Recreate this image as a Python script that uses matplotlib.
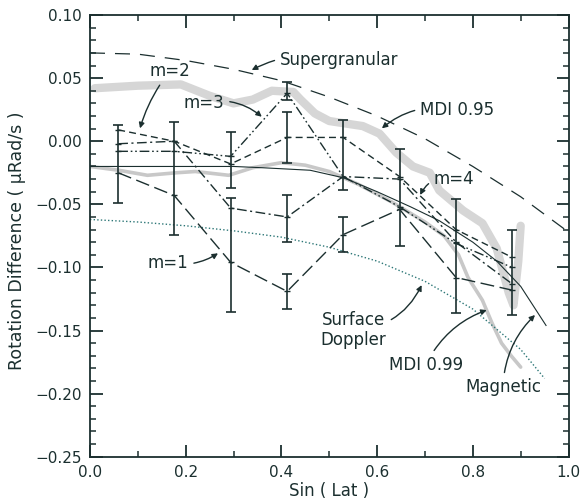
import matplotlib
matplotlib.use("Agg")
import matplotlib.pyplot as plt
from matplotlib.ticker import MultipleLocator, FuncFormatter

plt.rcParams['font.family'] = ['DejaVu Sans']

ink = '#1b2f2f'

# data
lat = [0.059, 0.176, 0.294, 0.412, 0.529, 0.647, 0.765, 0.882]
m1 = [-0.025, -0.043, -0.096, -0.119, -0.074, -0.054, -0.108, -0.118]
m2 = [0.009, 0.000, -0.018, 0.003, 0.003, -0.028, -0.070, -0.092]
m3 = [-0.008, -0.008, -0.012, 0.038, -0.028, -0.052, -0.081, -0.100]
m4 = [-0.002, 0.000, -0.053, -0.060, -0.028, -0.030, -0.080, -0.113]

# error bars (x, low, high)
bar_x = [0.059, 0.176, 0.294, 0.294, 0.412, 0.412, 0.412, 0.412, 0.529, 0.529, 0.647, 0.765, 0.882]
bar_lo = [-0.049, -0.074, -0.037, -0.135, 0.033, -0.017, -0.080, -0.133, -0.039, -0.088, -0.083, -0.136, -0.138]
bar_hi = [0.013, 0.015, 0.007, -0.045, 0.047, 0.023, -0.043, -0.105, 0.017, -0.060, -0.006, -0.046, -0.070]

super_x = [0.0, 0.1, 0.2, 0.3, 0.4, 0.5, 0.6, 0.7, 0.8, 0.9, 1.0]
super_y = [0.070, 0.069, 0.064, 0.057, 0.048, 0.035, 0.020, 0.002, -0.020, -0.044, -0.072]

doppler_x = [0.0, 0.1, 0.2, 0.3, 0.4, 0.5, 0.6, 0.7, 0.8, 0.9, 0.95]
doppler_y = [-0.062, -0.064, -0.067, -0.071, -0.076, -0.084, -0.095, -0.111, -0.133, -0.165, -0.188]

magnetic_x = [0.0, 0.1, 0.2, 0.3, 0.36, 0.46, 0.53, 0.60, 0.67, 0.73, 0.80, 0.85, 0.90, 0.953]
magnetic_y = [-0.020, -0.020, -0.020, -0.020, -0.021, -0.023, -0.029, -0.040, -0.052, -0.063, -0.080, -0.095, -0.115, -0.146]

mdi95_x = [0.01, 0.10, 0.19, 0.25, 0.30, 0.34, 0.38, 0.425, 0.44, 0.47, 0.50, 0.57, 0.605, 0.64, 0.675, 0.71,
           0.73, 0.78, 0.82, 0.85, 0.875, 0.885, 0.895, 0.90]
mdi95_y = [0.042, 0.044, 0.045, 0.036, 0.030, 0.033, 0.040, 0.039, 0.033, 0.022, 0.016, 0.012, 0.006, -0.009,
           -0.020, -0.025, -0.039, -0.055, -0.065, -0.085, -0.120, -0.130, -0.095, -0.067]

mdi99_x = [0.0, 0.06, 0.12, 0.18, 0.22, 0.29, 0.34, 0.40, 0.45, 0.50, 0.56, 0.63, 0.70, 0.74, 0.77, 0.79,
           0.82, 0.84, 0.86, 0.88, 0.90]
mdi99_y = [-0.020, -0.023, -0.027, -0.025, -0.024, -0.027, -0.021, -0.017, -0.019, -0.024, -0.034, -0.048,
           -0.064, -0.075, -0.090, -0.108, -0.126, -0.144, -0.160, -0.170, -0.179]

fig = plt.figure(figsize=(5.84, 5.01), dpi=100)
ax = fig.add_axes([0.1541, 0.0884, 0.8194, 0.8816])

# gray MDI bands first so the black lines sit on top
ax.plot(mdi95_x, mdi95_y, color='#d6d6d6', lw=6, solid_capstyle='round', zorder=1)
ax.plot(mdi99_x, mdi99_y, color='#c8c8c8', lw=2.6, solid_capstyle='round', zorder=1)

ax.plot(super_x, super_y, color=ink, lw=0.9, dashes=(12, 8), zorder=2)
ax.plot(doppler_x, doppler_y, color='#2d7777', lw=1.0, dashes=(1, 1.6), zorder=2)
ax.plot(magnetic_x, magnetic_y, color=ink, lw=0.8, zorder=2)

ax.plot(lat, m1, color=ink, lw=1.0, dashes=(10, 4), zorder=3)
ax.plot(lat, m2, color=ink, lw=1.0, dashes=(5, 3), zorder=3)
ax.plot(lat, m3, color=ink, lw=1.0, dashes=(7, 2, 1.2, 2, 1.2, 2), zorder=3)
ax.plot(lat, m4, color=ink, lw=1.0, dashes=(7, 2.5, 1.5, 2.5), zorder=3)
for s in (m1, m2, m3, m4):
    ax.plot(lat, s, ls='none', marker='_', ms=5, mew=1.0, color=ink, zorder=3)

for x, lo, hi in zip(bar_x, bar_lo, bar_hi):
    ax.errorbar([x], [(lo + hi) / 2], yerr=[[(hi - lo) / 2], [(hi - lo) / 2]], fmt='none',
                ecolor=ink, elinewidth=1.2, capsize=3.6, capthick=1.2, zorder=4)

ax.set_xlim(0.0, 1.0)
ax.set_ylim(-0.25, 0.10)
ax.xaxis.set_major_locator(MultipleLocator(0.2))
ax.xaxis.set_minor_locator(MultipleLocator(0.1))
ax.yaxis.set_major_locator(MultipleLocator(0.05))
ax.yaxis.set_minor_locator(MultipleLocator(0.01))
ax.xaxis.set_major_formatter(FuncFormatter(lambda v, p: '%.1f' % v))
ax.yaxis.set_major_formatter(FuncFormatter(lambda v, p: ('%.2f' % v).replace('-', '\u2212')))
ax.tick_params(which='both', direction='in', top=True, right=True, colors=ink, labelsize=11)
ax.tick_params(which='major', length=9, width=1.3, pad=6)
ax.tick_params(which='minor', length=4.5, width=1.1)
for sp in ax.spines.values():
    sp.set_color(ink)
    sp.set_linewidth(1.3)

ax.set_xlabel('Sin ( Lat )', fontsize=12, color=ink)
ax.set_ylabel('Rotation Difference ( μRad/s )', fontsize=12.5, color=ink)
ax.xaxis.set_label_coords(0.5, -0.058)
ax.yaxis.set_label_coords(-0.134, 0.488)

def label(text, xy, xytext, rad, ha='center'):
    ax.annotate(text, xy=xy, xytext=xytext, ha=ha, va='center', fontsize=12, color=ink,
                multialignment='center', linespacing=1.1,
                arrowprops=dict(arrowstyle='-|>', color=ink, lw=1.0, mutation_scale=8,
                                shrinkA=2, shrinkB=0, connectionstyle='arc3,rad=%s' % rad),
                zorder=5)

label('Supergranular', (0.338, 0.0564), (0.397, 0.0643), 0.2, ha='left')
label('m=2', (0.1045, 0.0102), (0.167, 0.0556), 0.1)
label('m=3', (0.359, 0.0194), (0.238, 0.0303), -0.25)
label('MDI 0.95', (0.610, 0.0102), (0.690, 0.0247), 0.25, ha='left')
label('m=4', (0.690, -0.0426), (0.718, -0.0300), 0.4, ha='left')
label('m=1', (0.2675, -0.0888), (0.163, -0.0965), 0.2)
label('Surface\nDoppler', (0.693, -0.114), (0.550, -0.1496), 0.3)
label('MDI 0.99', (0.829, -0.1338), (0.702, -0.177), -0.2)
label('Magnetic', (0.930, -0.1377), (0.863, -0.1948), -0.2)

fig.savefig('out.png', dpi=100)
